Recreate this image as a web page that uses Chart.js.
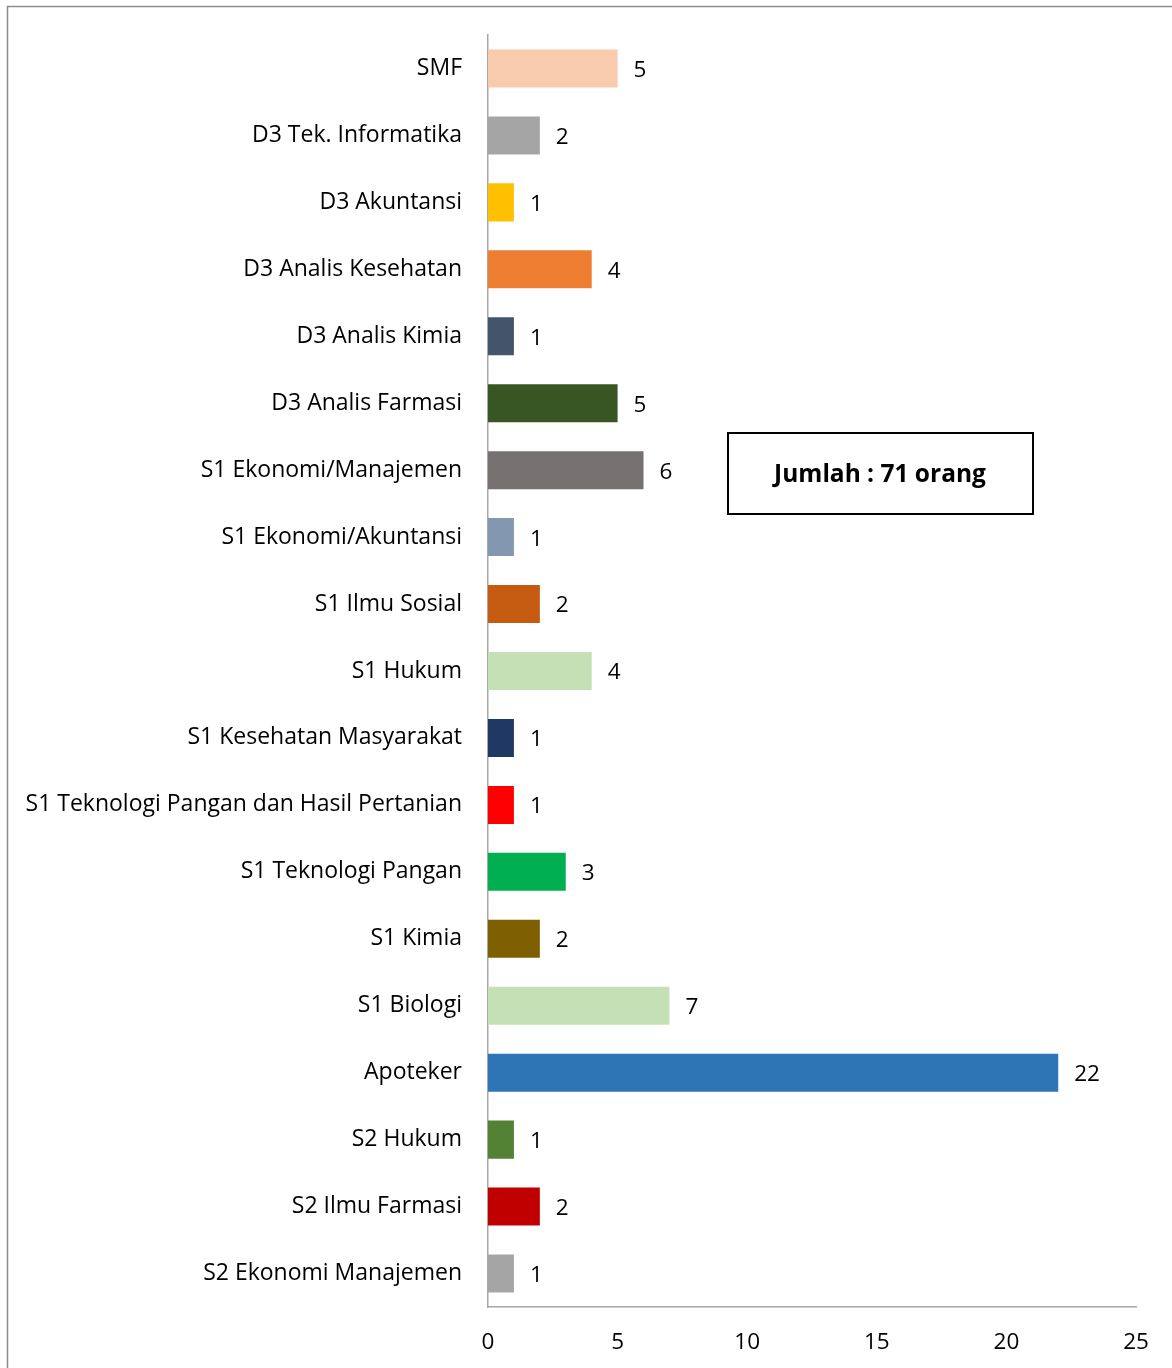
<!DOCTYPE html>
<html>
<head>
<meta charset="utf-8">
<script src="https://cdn.jsdelivr.net/npm/chart.js@4.4.0/dist/chart.umd.min.js"></script>
<style>
  html, body { margin: 0; padding: 0; background: #fff; }
  #wrap { width: 1172px; height: 1368px; position: relative; }
</style>
</head>
<body>
<div id="wrap"><canvas id="chart"></canvas></div>
<script>
const categories = [
  'SMF', 'D3 Tek. Informatika', 'D3 Akuntansi', 'D3 Analis Kesehatan', 'D3 Analis Kimia',
  'D3 Analis Farmasi', 'S1 Ekonomi/Manajemen', 'S1 Ekonomi/Akuntansi', 'S1 Ilmu Sosial',
  'S1 Hukum', 'S1 Kesehatan Masyarakat', 'S1 Teknologi Pangan dan Hasil Pertanian',
  'S1 Teknologi Pangan', 'S1 Kimia', 'S1 Biologi', 'Apoteker', 'S2 Hukum',
  'S2 Ilmu Farmasi', 'S2 Ekonomi Manajemen'
];
const counts = [5, 2, 1, 4, 1, 5, 6, 1, 2, 4, 1, 1, 3, 2, 7, 22, 1, 2, 1];
const barColors = [
  '#F8CBAD', '#A5A5A5', '#FFC000', '#ED7D31', '#44546A', '#375623', '#767171', '#8497B0',
  '#C55A11', '#C5E0B4', '#203864', '#FF0000', '#00B050', '#7F6000', '#C5E0B4', '#2E75B6',
  '#548235', '#C00000', '#A5A5A5'
];
const xTicks = [0, 5, 10, 15, 20, 25];
const totalText = 'Jumlah : 71 orang';

const fontFamily = '"Open Sans", sans-serif';

const extras = {
  id: 'extras',
  afterDraw(chart) {
    const ctx = chart.ctx;
    ctx.save();
    // outer frame
    ctx.strokeStyle = '#8c8c8c';
    ctx.lineWidth = 1.5;
    ctx.strokeRect(7.5, 6.5, 1300, 1400);

    // value labels
    ctx.fillStyle = '#000';
    ctx.font = '22.5px ' + fontFamily;
    ctx.textAlign = 'left';
    ctx.textBaseline = 'middle';
    const meta = chart.getDatasetMeta(0);
    meta.data.forEach((bar, i) => {
      ctx.fillText(String(counts[i]), bar.x + 16, bar.y + 2);
    });

    // total box
    ctx.strokeStyle = '#000';
    ctx.lineWidth = 2;
    ctx.strokeRect(728, 433, 305, 81);
    ctx.font = 'bold 24.5px ' + fontFamily;
    ctx.textAlign = 'center';
    ctx.fillText(totalText, 880, 475);
    ctx.restore();
  }
};

new Chart(document.getElementById('chart'), {
  type: 'bar',
  data: {
    labels: categories,
    datasets: [{
      data: counts,
      backgroundColor: barColors,
      borderWidth: 0,
      barPercentage: 0.568,
      categoryPercentage: 1.0
    }]
  },
  options: {
    indexAxis: 'y',
    responsive: true,
    maintainAspectRatio: false,
    animation: false,
    layout: { padding: { left: 0, top: 35, right: 36, bottom: 0 } },
    plugins: { legend: { display: false }, tooltip: { enabled: false } },
    scales: {
      x: {
        min: 0, max: 25,
        afterBuildTicks: (scale) => { scale.ticks = xTicks.map(v => ({ value: v })); },
        afterFit: (scale) => { scale.height = 61; },
        grid: { display: false, drawTicks: false },
        border: { color: '#a6a6a6', width: 1.5 },
        ticks: { color: '#000', font: { size: 22.5, family: fontFamily }, padding: 22, maxRotation: 0 }
      },
      y: {
        afterFit: (scale) => {
          scale.width = 488;
          scale.paddingTop = 0;
          scale.paddingBottom = 0;
        },
        grid: { display: false, drawTicks: false },
        border: { color: '#a6a6a6', width: 1.5 },
        ticks: { color: '#000', font: { size: 23, family: fontFamily }, padding: 26, autoSkip: false }
      }
    }
  },
  plugins: [extras]
});
</script>
</body>
</html>
